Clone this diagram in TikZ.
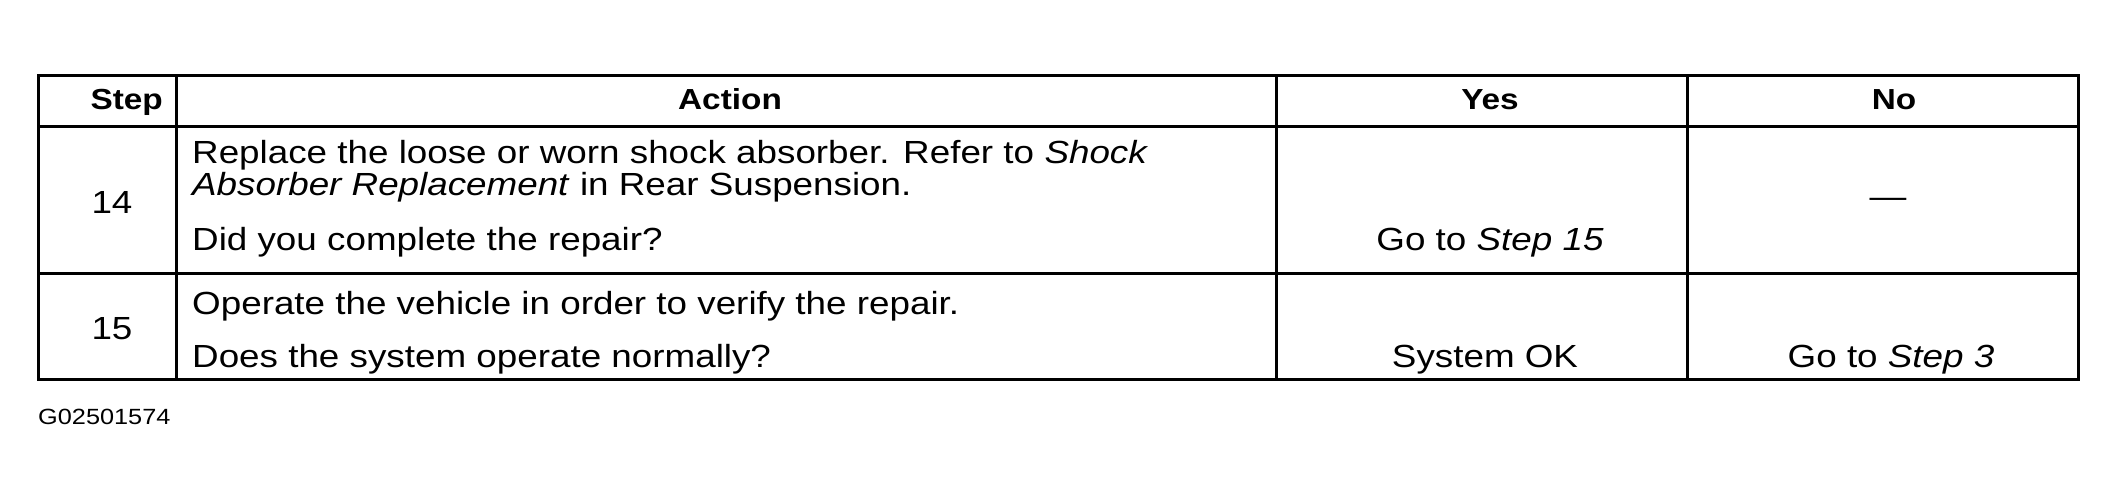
\documentclass[tikz,border=0pt]{standalone}
\usepackage{fontspec}
\setmainfont{Liberation Sans}[FakeStretch=1.15]
\begin{document}
\begin{tikzpicture}[x=1pt,y=-1pt,
    every node/.style={inner sep=0pt,font=\fontsize{32}{38}\selectfont},
    head/.style={anchor=base,font=\fontsize{29}{35}\selectfont\bfseries},
    txt/.style={anchor=base west},
    mid/.style={anchor=base},
    rule/.style={line width=3pt}]
    \useasboundingbox (0,0) rectangle (2116,500);
    % frame and rules
    \draw[rule] (38,76) rectangle (2078,379);
    \draw[rule] (38,127) -- (2078,127);
    \draw[rule] (38,273) -- (2078,273);
    \draw[rule] (176,76) -- (176,379);
    \draw[rule] (1276,76) -- (1276,379);
    \draw[rule] (1687,76) -- (1687,379);
    % header
    \node[head,anchor=base east] (hstep) at (163,110) {Step};
    \node[head] (haction) at (730,110) {Action};
    \node[head] (hyes) at (1490,110) {Yes};
    \node[head] (hno) at (1894,110) {No};
    % step 14
    \node[mid] (s14) at (112,213) {14};
    \node[txt] (a14a) at (192,163) {Replace the loose or worn shock absorber. Refer to \textit{Shock}};
    \node[txt] (a14b) at (192,195) {\textit{Absorber Replacement} in Rear Suspension.};
    \node[txt] (a14c) at (192,250) {Did you complete the repair?};
    \node[mid] (y14) at (1490,250) {Go to \textit{Step 15}};
    \node (n14) at (1888,203) {---};
    % step 15
    \node[mid] (s15) at (112,339) {15};
    \node[txt] (a15a) at (192,314) {Operate the vehicle in order to verify the repair.};
    \node[txt] (a15b) at (192,367) {Does the system operate normally?};
    \node[mid] (y15) at (1485,367) {System OK};
    \node[mid] (n15) at (1891,367) {Go to \textit{Step 3}};
    % figure id
    \node[txt,font=\fontsize{22}{26}\selectfont] (fig) at (38,424) {G02501574};
\end{tikzpicture}
\end{document}
